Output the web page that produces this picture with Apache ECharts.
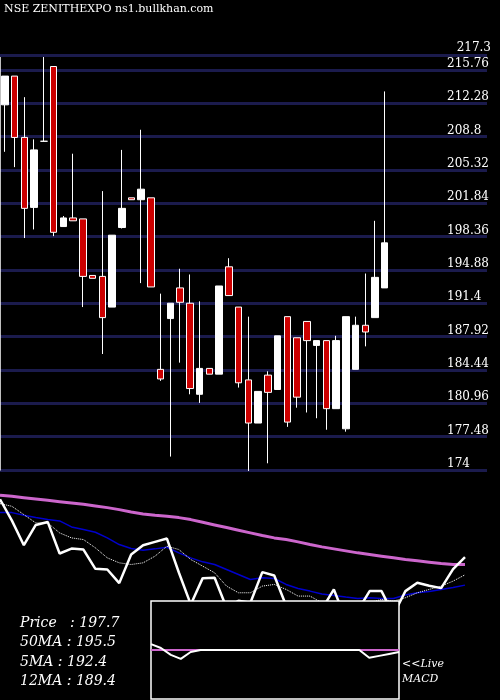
<!DOCTYPE html>
<html><head><meta charset="utf-8">
<script src="https://cdn.jsdelivr.net/npm/echarts@6/dist/echarts.min.js"></script>
<style>html,body{margin:0;padding:0;background:#000}#c{width:500px;height:700px}</style>
</head><body><div id="c"></div>
<script>
// candle data: [open, close, low, high]
const candles = [
[212.1,215.1,207.2,215.1],[215.1,208.7,205.6,215.1],[208.7,201.3,198.2,212.9],[201.4,207.4,199.1,208.5],
[208.3,208.3,208.3,217.4],[216.1,198.8,198.4,216.1],[199.4,200.3,199.4,200.5],[200.3,200.0,200.0,207.0],
[200.2,194.2,191.0,200.2],[194.3,194.0,194.0,194.3],[194.2,189.9,186.1,203.1],[191.0,198.5,191.0,198.5],
[199.3,201.3,199.2,207.4],[202.4,202.2,202.2,202.4],[202.2,203.3,193.5,209.5],[202.4,193.1,193.1,202.4],
[184.5,183.5,183.3,192.4],[189.8,191.4,175.4,191.4],[193.0,191.5,185.2,195.0],[191.4,182.5,181.9,194.4],
[181.9,184.6,181.0,191.6],[184.6,184.0,184.0,184.6],[184.0,193.2,184.0,193.2],[195.2,192.2,192.2,196.1],
[191.0,183.1,182.6,191.0],[183.4,178.9,173.9,190.0],[178.9,182.2,178.9,182.2],[183.9,182.1,174.7,184.3],
[182.4,188.0,182.4,188.0],[190.0,179.0,178.5,190.0],[187.8,181.6,180.5,187.8],[189.5,187.5,180.0,189.5],
[187.0,187.5,179.4,187.5],[187.5,180.4,178.2,187.5],[180.4,187.5,180.4,188.0],[178.3,190.0,178.0,190.0],
[184.5,189.1,184.5,190.0],[189.1,188.4,186.9,194.5],[189.9,194.1,189.9,200.0],[193.0,197.7,193.0,213.5]
];
const closes = [215.1,208.7,201.3,207.4,208.3,198.8,200.3,200.0,194.2,194.0,189.9,198.5,201.3,202.3,203.3,193.1,183.5,191.4,191.5,182.5,184.6,184.0,193.2,192.2,183.1,178.9,182.2,182.1,188.0,179.0,181.6,187.5,187.5,180.4,187.5,190.0,189.1,188.4,194.1,197.7];
const ma5 = [213.8,213.0,210.5,208.0,208.0,205.0,203.5,203.0,200.5,197.5,196.0,195.5,196.0,198.0,201.0,200.0,197.0,195.0,193.0,189.0,187.0,187.0,189.0,189.5,188.0,186.0,186.0,184.0,183.0,182.5,183.0,184.0,185.0,184.5,185.5,187.0,188.0,189.0,190.5,192.4];
const ma12 = [211.1,211.1,210.3,209.6,209.0,208.6,206.8,206.0,205.2,203.5,201.5,200.3,199.8,200.2,200.7,199.0,197.5,196.3,195.5,194.0,192.5,191.0,191.5,191.3,189.5,188.3,187.5,186.6,186.2,185.7,185.3,185.5,185.3,185.3,186.3,187.0,187.4,188.0,188.6,189.3];
const ma50 = [216.3,216.0,215.6,215.2,214.8,214.4,214.0,213.6,213.1,212.6,212.0,211.3,210.7,210.3,210.0,209.6,209.0,208.2,207.4,206.6,205.8,205.0,204.2,203.5,203.0,202.3,201.5,200.8,200.2,199.6,199.0,198.5,198.0,197.5,197.0,196.6,196.2,195.8,195.5,195.5];
const macd = [0.6,0.2,-0.5,-0.9,-0.2,0,0,0,0,0,0,0,0,0,0,0,0,0,0,0,0,0,-0.8,-0.6,-0.4,-0.2];
const macdSignal = [0,0,0,0,0,0,0,0,0,0,0,0,0,0,0,0,0,0,0,0,0,0,0,0,0,0];
const yTickMin = 174, yTickStep = 3.48, yTop = 217.3;
const legendLines = ['Price   : 197.7','50MA : 195.5','5MA : 192.4','12MA : 189.4'];

const cats = []; for (let i=0;i<50;i++) cats.push(String(i+1));
const idx = closes.map((_,i)=>String(i));
const serif = 'DejaVu Serif, Liberation Serif, serif';

const chart = echarts.init(document.getElementById('c'));
chart.setOption({
  backgroundColor:'#000',
  animation:false,
  grid:[
    {left:0,top:55,width:487,height:415},
    {left:0,top:492,width:465,height:144},
    {left:151,top:601,width:248,height:98,show:true,backgroundColor:'#000',borderColor:'#fff',borderWidth:1.5,z:10}
  ],
  xAxis:[
    {type:'category',gridIndex:0,data:cats,axisLine:{show:false},axisTick:{show:false},axisLabel:{show:false}},
    {type:'category',gridIndex:1,data:idx,boundaryGap:false,show:false},
    {type:'category',gridIndex:2,data:macd.map((_,i)=>String(i)),boundaryGap:false,show:false}
  ],
  yAxis:[
    {type:'value',gridIndex:0,position:'right',min:yTickMin,max:yTop,interval:yTickStep,
     axisLine:{show:false},axisTick:{show:false},
     splitLine:{lineStyle:{color:'#1b1b4d',width:3}},
     axisLabel:{inside:true,align:'left',margin:40,verticalAlign:'bottom',color:'#fff',fontFamily:serif,fontSize:12,showMaxLabel:false}},
    {type:'value',gridIndex:1,min:174,max:217.3,show:false},
    {type:'value',gridIndex:2,min:-5,max:5,show:false},
    {type:'value',gridIndex:0,position:'left',min:yTickMin,max:yTop,axisLine:{show:true,lineStyle:{color:'#fff',width:1.5}},axisTick:{show:false},axisLabel:{show:false},splitLine:{show:false}}
  ],
  series:[
    {type:'candlestick',xAxisIndex:0,yAxisIndex:0,data:candles,barWidth:7,
     itemStyle:{color:'#fff',color0:'#cc0000',borderColor:'#fff',borderColor0:'#fff',borderWidth:1},
     markLine:{silent:true,symbol:'none',label:{show:true,position:'insideEndTop',formatter:String(yTop),color:'#fff',fontFamily:serif,fontSize:12,distance:[-4,1]},
       lineStyle:{color:'#1b1b4d',width:3,type:'solid'},data:[{yAxis:yTop}]}},
    {type:'line',xAxisIndex:1,yAxisIndex:1,data:ma50,symbol:'none',lineStyle:{color:'#cc66cc',width:3},z:2},
    {type:'line',xAxisIndex:1,yAxisIndex:1,data:ma12,symbol:'none',lineStyle:{color:'#0000cc',width:1.5},z:2},
    {type:'line',xAxisIndex:1,yAxisIndex:1,data:ma5,symbol:'none',lineStyle:{color:'#fff',width:1,type:'dotted'},z:2},
    {type:'line',xAxisIndex:1,yAxisIndex:1,data:closes,symbol:'none',lineStyle:{color:'#fff',width:2.5},z:3},
    {type:'line',xAxisIndex:2,yAxisIndex:2,data:macdSignal,symbol:'none',lineStyle:{color:'#cc66cc',width:2},z:11},
    {type:'line',xAxisIndex:2,yAxisIndex:2,data:macd,symbol:'none',lineStyle:{color:'#fff',width:2},z:12}
  ],
  graphic:[
    {type:'text',left:4,top:4,style:{text:'NSE ZENITHEXPO ns1.bullkhan.com',fill:'#fff',font:'11px '+serif}},
    ...legendLines.map((t,i)=>({type:'text',left:20,top:616+i*19.5,z:20,style:{text:t,fill:'#fff',font:'italic 14px '+serif}})),
    {type:'text',left:402,top:657,z:20,style:{text:'<<Live\nMACD',fill:'#fff',font:'italic 11px '+serif,lineHeight:15}}
  ]
});
</script></body></html>
